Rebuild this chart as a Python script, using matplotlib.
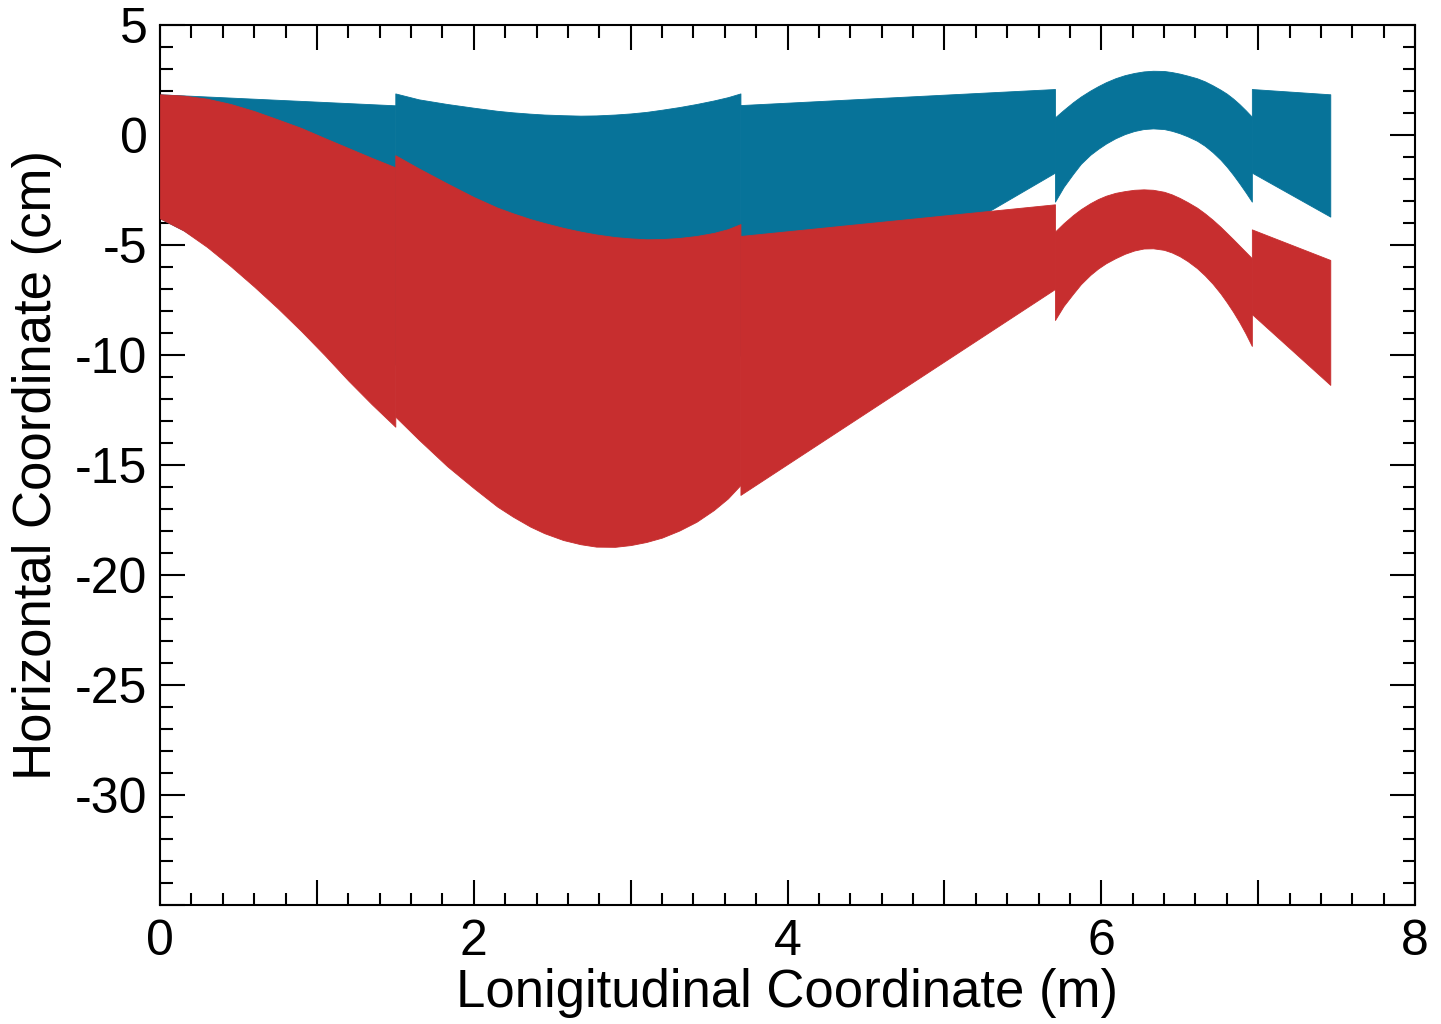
import matplotlib
matplotlib.use('Agg')
import matplotlib.pyplot as plt
from matplotlib.ticker import MultipleLocator, FuncFormatter

plt.rcParams['font.family'] = ['Liberation Sans', 'DejaVu Sans']
plt.rcParams['axes.unicode_minus'] = False

BLUE = '#077399'
RED = '#C72E2F'

# ---- data (x in m, y in cm) ----
# segment 1
s1_x = [0.0, 0.15, 0.30, 0.45, 0.60, 0.75, 0.90, 1.05, 1.20, 1.35, 1.50]
s1_blue_top = [1.85, 1.80, 1.75, 1.70, 1.65, 1.60, 1.55, 1.50, 1.45, 1.40, 1.35]
s1_blue_bot = [-3.79, -4.33, -4.99, -5.67, -6.33, -6.98, -7.68, -8.37, -9.12, -9.80, -10.44]
s1_red_top = [1.85, 1.79, 1.65, 1.41, 1.09, 0.71, 0.32, -0.14, -0.59, -1.04, -1.47]
s1_red_bot = [-3.79, -4.34, -5.09, -5.96, -6.89, -7.87, -8.91, -10.01, -11.16, -12.24, -13.26]

# segment 2
s2_x = [1.50, 1.65, 1.83, 2.00, 2.15, 2.25, 2.36, 2.45, 2.57, 2.68, 2.78, 2.90,
        3.00, 3.10, 3.20, 3.31, 3.42, 3.53, 3.62, 3.70]
s2_blue_top = [1.89, 1.62, 1.41, 1.24, 1.10, 1.03, 0.97, 0.93, 0.90, 0.88, 0.89, 0.93,
               0.98, 1.05, 1.15, 1.27, 1.41, 1.57, 1.72, 1.89]
s2_blue_bot = [-9.99, -10.71, -11.44, -11.99, -12.49, -12.76, -13.01, -13.17, -13.29, -13.33, -13.30, -13.15,
               -12.96, -12.71, -12.42, -12.03, -11.58, -11.03, -10.52, -9.97]
s2_red_top = [-0.92, -1.52, -2.20, -2.82, -3.30, -3.56, -3.82, -4.00, -4.22, -4.39, -4.52, -4.64,
              -4.70, -4.74, -4.73, -4.68, -4.59, -4.45, -4.28, -4.05]
s2_red_bot = [-12.80, -13.85, -15.05, -16.05, -16.89, -17.35, -17.80, -18.10, -18.41, -18.60, -18.71, -18.72,
              -18.64, -18.50, -18.30, -17.98, -17.58, -17.05, -16.52, -15.91]

# segment 3
s3_x = [3.70, 5.705]
s3_blue_top = [1.36, 2.09]
s3_blue_bot = [-10.05, -1.71]
s3_red_top = [-4.59, -3.15]
s3_red_bot = [-16.36, -7.00]

# segment 4
s4_x = [5.705, 5.76, 5.82, 5.87, 5.93, 5.98, 6.03, 6.09, 6.15, 6.21, 6.27, 6.33, 6.40,
        6.45, 6.50, 6.55, 6.61, 6.66, 6.71, 6.76, 6.80, 6.84, 6.88, 6.92, 6.96]
s4_blue_top = [0.80, 1.14, 1.49, 1.75, 2.02, 2.22, 2.40, 2.58, 2.72, 2.82, 2.89, 2.92, 2.91,
               2.86, 2.79, 2.70, 2.58, 2.44, 2.26, 2.06, 1.88, 1.66, 1.41, 1.13, 0.83]
s4_blue_bot = [-3.03, -2.36, -1.77, -1.31, -0.90, -0.63, -0.39, -0.15, 0.04, 0.18, 0.27, 0.30, 0.27,
               0.19, 0.08, -0.06, -0.26, -0.49, -0.78, -1.12, -1.44, -1.80, -2.19, -2.60, -3.03]
s4_red_top = [-4.39, -4.01, -3.64, -3.37, -3.10, -2.91, -2.76, -2.63, -2.55, -2.49, -2.47, -2.49, -2.58,
              -2.70, -2.86, -3.05, -3.30, -3.56, -3.85, -4.17, -4.45, -4.73, -5.02, -5.31, -5.60]
s4_red_bot = [-8.41, -7.77, -7.22, -6.78, -6.36, -6.07, -5.83, -5.60, -5.40, -5.25, -5.16, -5.15, -5.22,
              -5.34, -5.51, -5.73, -6.05, -6.38, -6.76, -7.20, -7.60, -8.03, -8.50, -9.02, -9.59]

# segment 5
s5_x = [6.96, 7.46]
s5_blue_top = [2.09, 1.85]
s5_blue_bot = [-1.71, -3.71]
s5_red_top = [-4.29, -5.68]
s5_red_bot = [-8.14, -11.36]

segments = [
    (s1_x, s1_blue_bot, s1_blue_top, s1_red_bot, s1_red_top),
    (s2_x, s2_blue_bot, s2_blue_top, s2_red_bot, s2_red_top),
    (s3_x, s3_blue_bot, s3_blue_top, s3_red_bot, s3_red_top),
    (s4_x, s4_blue_bot, s4_blue_top, s4_red_bot, s4_red_top),
    (s5_x, s5_blue_bot, s5_blue_top, s5_red_bot, s5_red_top),
]

fig = plt.figure(figsize=(14.41, 10.24), dpi=100)
ax = fig.add_axes([160 / 1441, 1 - 905 / 1024, (1415 - 160) / 1441, (905 - 25) / 1024])

for x, bb, bt, rb, rt in segments:
    ax.fill_between(x, bb, bt, color=BLUE, linewidth=0.6, edgecolor=BLUE, zorder=2)
for x, bb, bt, rb, rt in segments:
    ax.fill_between(x, rb, rt, color=RED, linewidth=0.6, edgecolor=RED, zorder=3)

ax.set_xlim(0, 8)
ax.set_ylim(-35, 5)

ax.xaxis.set_major_locator(MultipleLocator(1))
ax.xaxis.set_minor_locator(MultipleLocator(0.2))
ax.yaxis.set_major_locator(MultipleLocator(5))
ax.yaxis.set_minor_locator(MultipleLocator(1))

ax.xaxis.set_major_formatter(FuncFormatter(lambda v, p: '%d' % round(v) if round(v) % 2 == 0 else ''))
ax.yaxis.set_major_formatter(FuncFormatter(lambda v, p: '' if round(v) <= -35 else '%d' % round(v)))

ax.tick_params(which='both', direction='in', top=True, right=True, width=1.5, colors='black',
               labelsize=36)
ax.tick_params(which='major', length=18)
ax.tick_params(which='minor', length=9)
ax.tick_params(axis='x', pad=10)
ax.tick_params(axis='y', pad=9)

for s in ax.spines.values():
    s.set_linewidth(1.5)

ax.set_xlabel('Lonigitudinal Coordinate (m)', fontsize=38, labelpad=2)
ax.set_ylabel('Horizontal Coordinate (cm)', fontsize=38, labelpad=9)

fig.savefig('out.png', dpi=100)
